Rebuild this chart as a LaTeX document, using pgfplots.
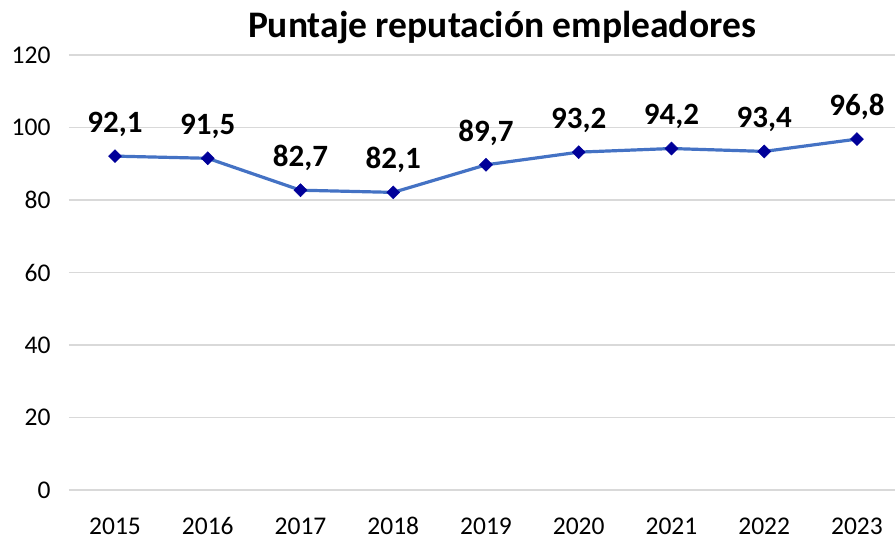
\documentclass[border=0pt]{standalone}
\usepackage{pgfplots}
\pgfplotsset{compat=1.18}
\usepackage{fontspec}
\setmainfont{Carlito}
\definecolor{linecol}{HTML}{4472C4}
\definecolor{markcol}{HTML}{000099}
\definecolor{gridcol}{HTML}{D9D9D9}
\begin{document}
\begin{tikzpicture}
\begin{axis}[
  name=ax,
  scale only axis,
  width=826pt, height=435pt,
  xmin=-0.496, xmax=8.41,
  ymin=0, ymax=120,
  ytick={0,20,...,120},
  xtick={0,...,8},
  xticklabels={2015,2016,2017,2018,2019,2020,2021,2022,2023},
  axis line style={draw=none},
  tick style={draw=none},
  ymajorgrids,
  grid style={gridcol, line width=1.5pt},
  /pgf/number format/assume math mode=true,
  tick label style={font=\fontsize{25.5}{28}\selectfont},
  yticklabel style={xshift=-15pt},
  xticklabel style={anchor=base, yshift=-45pt},
  clip=false,
  nodes near coords,
  point meta=explicit symbolic,
  every node near coord/.append style={font=\fontsize{31}{34}\selectfont\bfseries, black, yshift=16pt},
]
\addplot[color=linecol, line width=3.2pt, mark=square*, mark size=4.6pt,
  mark options={fill=markcol, draw=markcol, line width=0.5pt, rotate=45}]
  table[meta=lab] {
x y lab
0 92.1 92,1
1 91.5 91,5
2 82.7 82,7
3 82.1 82,1
4 89.7 89,7
5 93.2 93,2
6 94.2 94,2
7 93.4 93,4
8 96.8 96,8
};
\coordinate (bl) at (rel axis cs:0,0);
\coordinate (tr) at (rel axis cs:1,1);
\end{axis}
\node[font=\fontsize{37.5}{40}\selectfont\bfseries, anchor=center] at ([xshift=433pt, yshift=27pt]bl |- tr) {Puntaje reputación empleadores};
\pgfresetboundingbox
\path ([xshift=-69pt, yshift=-50pt]bl) rectangle ([xshift=1pt, yshift=55pt]tr);
\end{tikzpicture}
\end{document}
